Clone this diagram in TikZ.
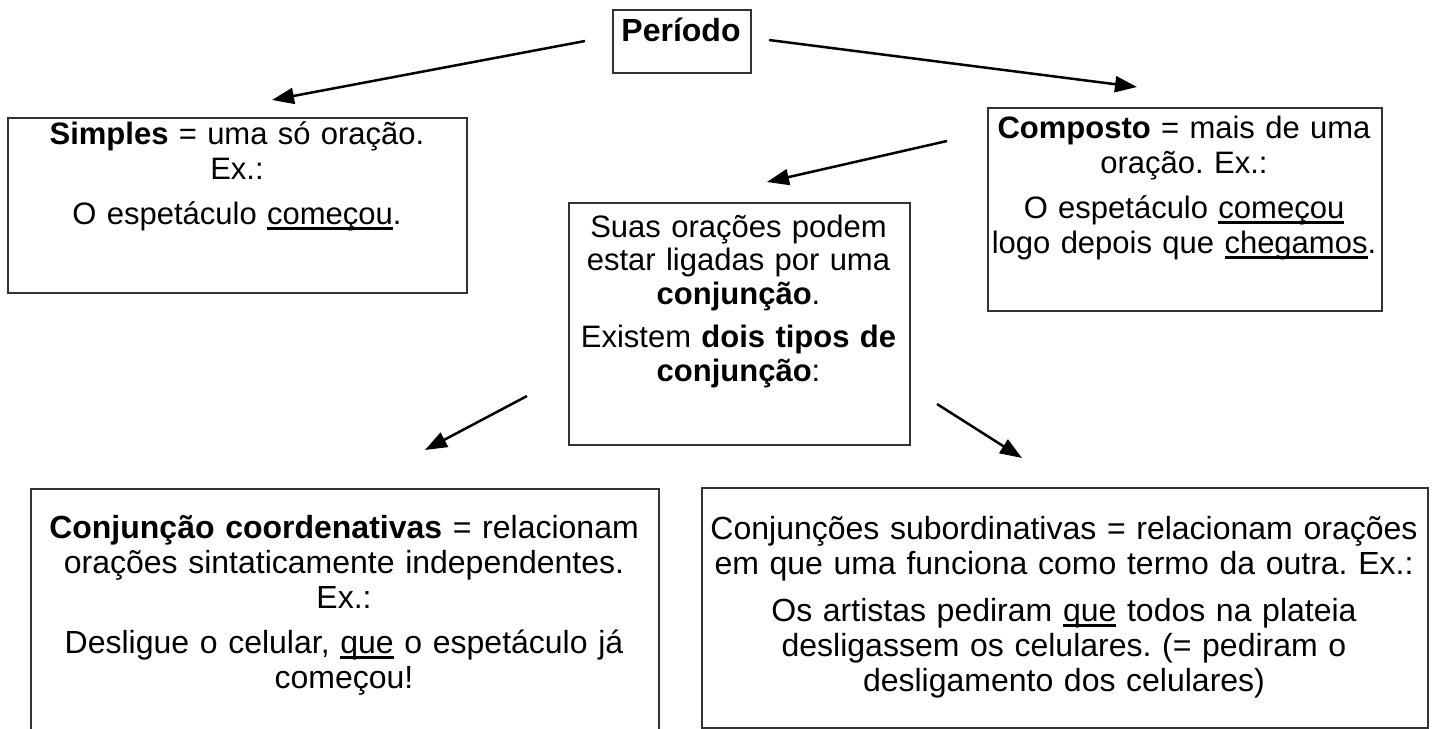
\documentclass[tikz,border=0pt]{standalone}
\usepackage{fontspec}
\setmainfont{Liberation Sans}
\frenchspacing
\usetikzlibrary{arrows.meta}
\def\sublinhar#1{\setbox0\hbox{#1}\rlap{\rule[-2.8pt]{\wd0}{1.1pt}}\box0\relax}
\tikzset{
	caixa/.style={draw=black!80, line width=0.75pt, inner sep=0pt, anchor=north west},
	texto/.style={anchor=base, align=center, inner sep=0pt, font=\fontsize{15.5}{17.5}\selectfont},
	textobaixo/.style={texto, font=\fontsize{16}{17.5}\selectfont},
	seta/.style={line width=1.25pt, -{Triangle[length=11pt,width=8pt]}}
}

\begin{document}
\begin{tikzpicture}[x=0.5pt,y=-0.5pt]
			%%%%% START %%%%%
			\useasboundingbox (0,0) rectangle (1432,729);
			\clip (0,0) rectangle (1432,729);
			
			\node[caixa, minimum width=69pt, minimum height=31.5pt] (periodo) at (612,9) {};
			\node[texto, text width=100pt, font=\fontsize{16}{17.5}\selectfont] (periodoT) at (681,41) {\textbf{Período}};
			
			\node[caixa, minimum width=229.5pt, minimum height=87.5pt] (simples) at (7,117) {};
			\node[texto, text width=260pt] (simplesT) at (237,144) {\textbf{Simples} = uma só oração.\\ Ex.:\\[5pt] O espetáculo \sublinhar{começou}.};
			
			\node[caixa, minimum width=197pt, minimum height=101.5pt] (composto) at (987,107) {};
			\node[texto, text width=230pt] (compostoT) at (1184,138) {\textbf{Composto} = mais de uma\\ oração. Ex.:\\[5pt] O espetáculo \sublinhar{começou}\\ logo depois que \sublinhar{chegamos}.};
			
			\node[caixa, minimum width=170.5pt, minimum height=121pt] (conjuncao) at (568,202) {};
			\node[texto, text width=200pt, font=\fontsize{15.5}{16.9}\selectfont] (conjuncaoT) at (738.5,237) {Suas orações podem\\ estar ligadas por uma\\ \textbf{conjunção}.\\[4.5pt] Existem \textbf{dois tipos de}\\ \textbf{conjunção}:};
			
			\node[caixa, minimum width=314pt, minimum height=136pt] (coord) at (30,488) {};
			\node[textobaixo, text width=350pt] (coordT) at (344,538) {\textbf{Conjunção coordenativas} = relacionam\\ orações sintaticamente independentes.\\ Ex.:\\[5pt] Desligue o celular, \sublinhar{que} o espetáculo já\\ começou!};
			
			\node[caixa, minimum width=363pt, minimum height=120pt] (subord) at (701,487) {};
			\node[textobaixo, text width=400pt] (subordT) at (1064,539) {Conjunções subordinativas = relacionam orações\\ em que uma funciona como termo da outra. Ex.:\\[6pt] Os artistas pediram \sublinhar{que} todos na plateia\\ desligassem os celulares. (= pediram o\\ desligamento dos celulares)};
			
			\coordinate (p1) at (585,41);
			\coordinate (p2) at (272,100);
			\coordinate (p3) at (769,40);
			\coordinate (p4) at (1137,87);
			\coordinate (c1) at (947,141);
			\coordinate (c2) at (767,182);
			\coordinate (m1) at (527,396);
			\coordinate (m2) at (425,450);
			\coordinate (m3) at (937,404);
			\coordinate (m4) at (1022,458);
			
			\draw[seta] (p1) -- (p2);
			\draw[seta] (p3) -- (p4);
			\draw[seta] (c1) -- (c2);
			\draw[seta] (m1) -- (m2);
			\draw[seta] (m3) -- (m4);
			
			%%%%% END %%%%%
		\end{tikzpicture}
\end{document}
